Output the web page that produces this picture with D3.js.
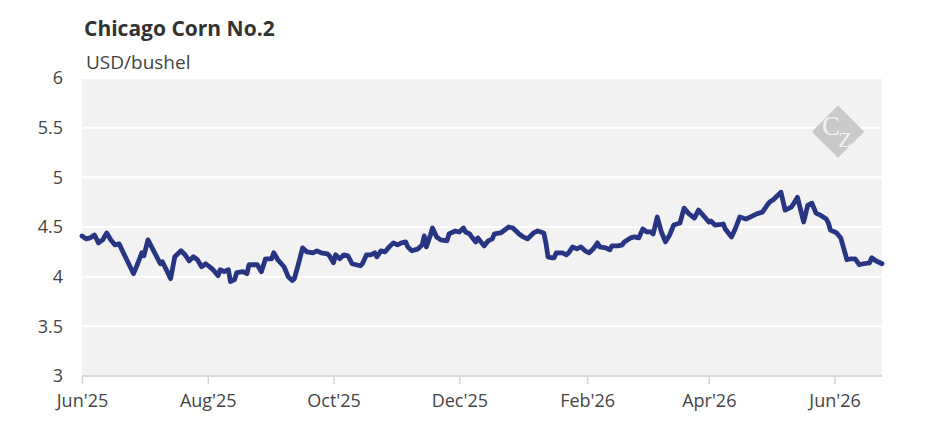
<!DOCTYPE html>
<html>
<head>
<meta charset="utf-8">
<script src="https://cdn.jsdelivr.net/npm/d3@7"></script>
<style>
  body { margin: 0; background: #fff; }
  svg { display: block; font-family: "Open Sans", sans-serif; }
</style>
</head>
<body>
<svg id="chart" width="945" height="443"></svg>
<script>
const title = "Chicago Corn No.2";
const unit = "USD/bushel";

const dates = [
  "2025-06-01","2025-06-03","2025-06-05","2025-06-07","2025-06-09","2025-06-11","2025-06-13","2025-06-15","2025-06-17","2025-06-19",
  "2025-06-22","2025-06-26","2025-06-28","2025-06-30","2025-07-01","2025-07-03","2025-07-05","2025-07-09","2025-07-10","2025-07-14",
  "2025-07-16","2025-07-17","2025-07-19","2025-07-21","2025-07-23","2025-07-25","2025-07-27","2025-07-29","2025-07-31","2025-08-03",
  "2025-08-04","2025-08-06","2025-08-07","2025-08-09","2025-08-11","2025-08-12","2025-08-14","2025-08-15","2025-08-18","2025-08-20",
  "2025-08-21","2025-08-24","2025-08-25","2025-08-27","2025-08-29","2025-09-01","2025-09-02","2025-09-04","2025-09-07","2025-09-09",
  "2025-09-11","2025-09-12","2025-09-14","2025-09-16","2025-09-18","2025-09-21","2025-09-23","2025-09-25","2025-09-28","2025-09-29",
  "2025-10-01","2025-10-02","2025-10-04","2025-10-06","2025-10-08","2025-10-10","2025-10-14","2025-10-15","2025-10-17","2025-10-19",
  "2025-10-21","2025-10-22","2025-10-24","2025-10-26","2025-10-28","2025-10-30","2025-11-01","2025-11-03","2025-11-05","2025-11-06",
  "2025-11-08","2025-11-11","2025-11-13","2025-11-14","2025-11-15","2025-11-17","2025-11-18","2025-11-20","2025-11-22","2025-11-25",
  "2025-11-26","2025-11-29","2025-12-01","2025-12-03","2025-12-04","2025-12-06","2025-12-07","2025-12-09","2025-12-10","2025-12-13",
  "2025-12-15","2025-12-17","2025-12-18","2025-12-21","2025-12-23","2025-12-25","2025-12-27","2025-12-30","2026-01-01","2026-01-03",
  "2026-01-06","2026-01-08","2026-01-11","2026-01-12","2026-01-13","2026-01-15","2026-01-16","2026-01-17","2026-01-20","2026-01-22",
  "2026-01-23","2026-01-25","2026-01-27","2026-01-29","2026-01-31","2026-02-02","2026-02-04","2026-02-06","2026-02-07","2026-02-10",
  "2026-02-12","2026-02-13","2026-02-16","2026-02-18","2026-02-19","2026-02-22","2026-02-24","2026-02-26","2026-02-28","2026-03-02",
  "2026-03-04","2026-03-05","2026-03-07","2026-03-09","2026-03-11","2026-03-13","2026-03-15","2026-03-18","2026-03-20","2026-03-22",
  "2026-03-25","2026-03-27","2026-03-30","2026-04-01","2026-04-02","2026-04-04","2026-04-08","2026-04-09","2026-04-12","2026-04-14",
  "2026-04-16","2026-04-19","2026-04-21","2026-04-24","2026-04-27","2026-04-28","2026-04-30","2026-05-01","2026-05-02","2026-05-04",
  "2026-05-06","2026-05-08","2026-05-11","2026-05-12","2026-05-14","2026-05-17","2026-05-19","2026-05-21","2026-05-23","2026-05-25",
  "2026-05-28","2026-05-29","2026-05-30","2026-06-02","2026-06-04","2026-06-07","2026-06-09","2026-06-11","2026-06-13","2026-06-15",
  "2026-06-18","2026-06-19","2026-06-21","2026-06-24"
];

const prices = [
  4.41,4.38,4.39,4.42,4.34,4.37,4.44,4.37,4.32,4.33,
  4.20,4.03,4.13,4.24,4.21,4.37,4.29,4.13,4.15,3.98,
  4.20,4.22,4.26,4.22,4.16,4.20,4.17,4.10,4.13,4.08,
  4.06,4.01,4.07,4.05,4.07,3.95,3.97,4.04,4.05,4.03,
  4.12,4.12,4.12,4.05,4.18,4.18,4.24,4.17,4.10,4.00,
  3.96,3.98,4.13,4.29,4.25,4.24,4.26,4.24,4.23,4.21,
  4.14,4.22,4.18,4.22,4.21,4.13,4.11,4.13,4.22,4.22,
  4.24,4.20,4.26,4.25,4.30,4.34,4.32,4.34,4.35,4.30,
  4.26,4.28,4.32,4.41,4.30,4.42,4.49,4.40,4.37,4.36,
  4.43,4.46,4.45,4.49,4.45,4.43,4.40,4.35,4.39,4.31,
  4.36,4.38,4.43,4.44,4.47,4.50,4.49,4.43,4.40,4.38,
  4.44,4.46,4.44,4.34,4.20,4.19,4.19,4.24,4.24,4.22,
  4.24,4.30,4.28,4.30,4.26,4.24,4.28,4.34,4.30,4.29,
  4.27,4.31,4.31,4.32,4.35,4.39,4.40,4.39,4.48,4.45,
  4.45,4.43,4.60,4.45,4.35,4.42,4.52,4.54,4.69,4.64,
  4.59,4.67,4.60,4.55,4.56,4.52,4.53,4.48,4.40,4.49,
  4.60,4.58,4.60,4.63,4.65,4.68,4.74,4.76,4.77,4.81,
  4.85,4.67,4.70,4.73,4.80,4.55,4.72,4.74,4.64,4.62,
  4.58,4.54,4.47,4.44,4.39,4.17,4.18,4.18,4.12,4.13,
  4.14,4.19,4.16,4.13
];

const yTicks = [3, 3.5, 4, 4.5, 5, 5.5, 6];
const xTicks = ["2025-06-01","2025-08-01","2025-10-01","2025-12-01","2026-02-01","2026-04-01","2026-06-01"];

const margin = { top: 78, right: 63, bottom: 67, left: 82 };
const totalW = 945, totalH = 443;
const width = totalW - margin.left - margin.right;
const height = totalH - margin.top - margin.bottom;

const parse = d3.utcParse("%Y-%m-%d");
const data = dates.map((d, i) => ({ date: parse(d), value: prices[i] }));

const svg = d3.select("#chart");

svg.append("text")
  .attr("x", 84)
  .attr("y", 36)
  .attr("font-size", "21px")
  .attr("font-weight", "bold")
  .attr("fill", "#333")
  .text(title);

svg.append("text")
  .attr("x", 86)
  .attr("y", 69)
  .attr("font-size", "19px")
  .attr("fill", "#444")
  .text(unit);

const g = svg.append("g")
  .attr("transform", `translate(${margin.left},${margin.top})`);

const x = d3.scaleUtc()
  .domain(d3.extent(data, d => d.date))
  .range([0, width]);

const y = d3.scaleLinear()
  .domain([3, 6])
  .range([height, 0]);

g.append("rect")
  .attr("width", width)
  .attr("height", height)
  .attr("fill", "#f2f2f2");

// white grid lines
g.selectAll("line.grid")
  .data(yTicks.slice(1))
  .enter()
  .append("line")
  .attr("class", "grid")
  .attr("x1", 0)
  .attr("x2", width)
  .attr("y1", d => y(d))
  .attr("y2", d => y(d))
  .attr("stroke", "#fff")
  .attr("stroke-width", 2);

// watermark
const wm = g.append("g")
  .attr("transform", `translate(${width - 44},${y(5.46)})`);
wm.append("rect")
  .attr("x", -18.5).attr("y", -18.5)
  .attr("width", 37).attr("height", 37)
  .attr("transform", "rotate(45)")
  .attr("fill", "#c9c9c9");
wm.append("text")
  .attr("x", -7).attr("y", 3)
  .attr("text-anchor", "middle")
  .attr("font-family", "Liberation Serif, serif")
  .attr("font-size", "27px")
  .attr("fill", "#f2f2f2")
  .text("C");
wm.append("text")
  .attr("x", 7).attr("y", 15)
  .attr("text-anchor", "middle")
  .attr("font-family", "Liberation Serif, serif")
  .attr("font-size", "22px")
  .attr("fill", "#f2f2f2")
  .text("Z");

// axes
const xAxis = g.append("g")
  .attr("transform", `translate(0,${height})`)
  .call(d3.axisBottom(x)
    .tickValues(xTicks.map(parse))
    .tickFormat(d3.utcFormat("%b'%y"))
    .tickSize(8)
    .tickPadding(10));
xAxis.select(".domain").remove();
xAxis.selectAll(".tick line").attr("stroke", "#d4d4d4").attr("stroke-width", 1.5);
xAxis.selectAll("text")
  .attr("fill", "#444")
  .style("font-size", "18px")
  .style("font-family", "Open Sans, sans-serif");

g.append("line")
  .attr("x1", 0)
  .attr("x2", width)
  .attr("y1", height)
  .attr("y2", height)
  .attr("stroke", "#d9d9d9")
  .attr("stroke-width", 2);

const yAxis = g.append("g")
  .call(d3.axisLeft(y)
    .tickValues(yTicks)
    .tickFormat(d => d)
    .tickSize(0)
    .tickPadding(19));
yAxis.select(".domain").remove();
yAxis.selectAll("text")
  .attr("fill", "#444")
  .style("font-size", "18px")
  .style("font-family", "Open Sans, sans-serif");

const line = d3.line()
  .x(d => x(d.date))
  .y(d => y(d.value));

g.append("path")
  .datum(data)
  .attr("fill", "none")
  .attr("stroke", "#283583")
  .attr("stroke-width", 4.8)
  .attr("stroke-linejoin", "round")
  .attr("stroke-linecap", "round")
  .attr("d", line);
</script>
</body>
</html>
